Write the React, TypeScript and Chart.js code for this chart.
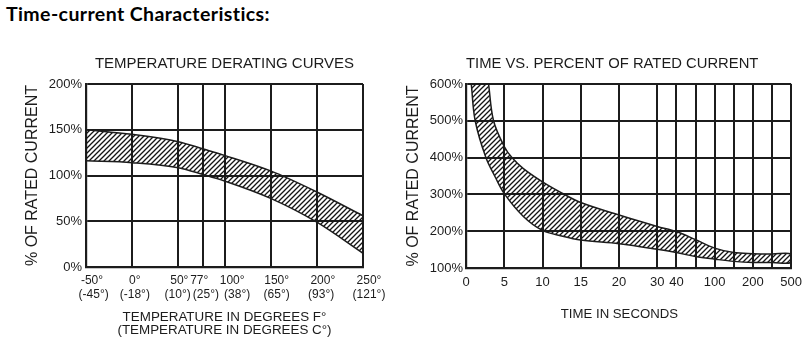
import React, { useEffect, useRef } from 'react';
import { Chart, registerables } from 'chart.js';

Chart.register(...registerables);

const FONT = '"Liberation Sans", Arial, Helvetica, sans-serif';
const INK = '#1c1c1c';

const PAGE_TITLE = 'Time-current Characteristics:';

// ---- Temperature derating curves ----
const DERATING_TITLE = 'TEMPERATURE DERATING CURVES';
const DERATING_Y_TITLE = '% OF RATED CURRENT';
const DERATING_X_TITLE = ['TEMPERATURE IN DEGREES F°', '(TEMPERATURE IN DEGREES C°)'];
const tempF = [-50, 0, 50, 77, 100, 150, 200, 250];
const tempC = [-45, -18, 10, 25, 38, 65, 93, 121];
const deratingUpper = [150, 145, 137, 129, 122, 105, 82, 56];
const deratingLower = [116, 114, 108.5, 101, 94, 75, 49, 15];
const deratingYTicks = [0, 50, 100, 150, 200];

// ---- Time vs percent of rated current ----
const TIME_TITLE = 'TIME VS. PERCENT OF RATED CURRENT';
const TIME_Y_TITLE = '% OF RATED CURRENT';
const TIME_X_TITLE = 'TIME IN SECONDS';
const timeGrid = [0, 5, 10, 15, 20, 30, 40, 60, 100, 150, 200, 300, 500];
const timeTickLabels = ['0', '5', '10', '15', '20', '30', '40', '', '100', '', '200', '', '500'];
// the time axis is non-uniform: slot index of each grid time on the axis
const timeGridSlots = [0, 2, 4, 6, 8, 10, 11, 12, 13, 14, 15, 16, 17];
const timeYTicks = [100, 200, 300, 400, 500, 600];
const upperTimes = [2.95, 3.6, 5, 6, 7.5, 10, 12.5, 15, 20, 30, 40, 60, 100, 150, 200, 300, 500];
const upperPct = [600, 500, 430, 400, 370, 334, 304, 278, 244, 213, 199, 177, 154, 142, 139, 138, 138];
const lowerTimes = [0.69, 1.2, 2.6, 3.8, 5, 7.5, 10, 12.5, 15, 20, 30, 40, 60, 100, 150, 200, 300, 500];
const lowerPct = [600, 500, 400, 348, 302, 240, 202, 187, 176, 166, 151, 142, 131, 124, 118, 115, 115, 115];

function timeToSlot(t: number): number {
  for (let i = 0; i < timeGrid.length - 1; i++) {
    if (t <= timeGrid[i + 1]) {
      const f = (t - timeGrid[i]) / (timeGrid[i + 1] - timeGrid[i]);
      return timeGridSlots[i] + f * (timeGridSlots[i + 1] - timeGridSlots[i]);
    }
  }
  return timeGridSlots[timeGridSlots.length - 1];
}

// spacing nudges so the crowded 50°/77°/100° labels sit side by side as in the original
const fLead = [0, 0, 0, 0, 1, 0, 0, 0];
const fTrail = [0, 2, 3, 6, 0, 0, 0, 0];
const cLead = [1, 0, 0, 0, 4, 0, 0, 0];
const cTrail = [0, 2, 4, 2, 0, 0, 1, 0];
function nudge(s: string, lead: number, trail: number) {
  return ' '.repeat(lead) + s + ' '.repeat(trail);
}

function makeHatch(): CanvasPattern | string {
  const s = 5;
  const c = document.createElement('canvas');
  c.width = s;
  c.height = s;
  const g = c.getContext('2d');
  if (!g) return '#888';
  g.strokeStyle = '#151515';
  g.lineWidth = 1.3;
  g.beginPath();
  g.moveTo(-1, s + 1);
  g.lineTo(s + 1, -1);
  g.moveTo(-2, 2);
  g.lineTo(2, -2);
  g.moveTo(s - 2, s + 2);
  g.lineTo(s + 2, s - 2);
  g.stroke();
  const p = g.createPattern(c, 'repeat');
  return p || '#888';
}

const gridOpts = { color: INK, lineWidth: 2, drawTicks: false };
const borderOpts = { color: INK, width: 2.2 };

function DeratingChart() {
  const ref = useRef<HTMLCanvasElement>(null);
  useEffect(() => {
    if (!ref.current) return;
    const hatch = makeHatch();
    const chart = new Chart(ref.current, {
      type: 'line',
      data: {
        datasets: [
          {
            label: 'upper',
            data: tempF.map((f, i) => ({ x: f, y: deratingUpper[i] })),
            borderColor: INK,
            borderWidth: 1.5,
            pointRadius: 0,
            fill: false,
            cubicInterpolationMode: 'monotone',
          },
          {
            label: 'lower',
            data: tempF.map((f, i) => ({ x: f, y: deratingLower[i] })),
            borderColor: INK,
            borderWidth: 1.5,
            pointRadius: 0,
            fill: '-1',
            backgroundColor: hatch as any,
            cubicInterpolationMode: 'monotone',
          },
        ],
      },
      options: {
        animation: false,
        responsive: false,
        devicePixelRatio: 1,
        layout: { padding: { left: 0, right: 37, top: 0, bottom: 0 } },
        plugins: {
          legend: { display: false },
          tooltip: { enabled: false },
          title: {
            display: true,
            text: DERATING_TITLE,
            fullSize: false,
            align: 'center',
            color: INK,
            font: { family: FONT, size: 15, weight: 'normal', lineHeight: 1.2 },
            padding: { top: 55, bottom: 11 },
          },
        },
        scales: {
          x: {
            type: 'linear',
            min: tempF[0],
            max: tempF[tempF.length - 1],
            afterBuildTicks: (s: any) => {
              s.ticks = tempF.map((v) => ({ value: v }));
            },
            afterFit: (s: any) => {
              s.height = 77;
            },
            ticks: {
              autoSkip: false,
              maxRotation: 0,
              minRotation: 0,
              padding: 7,
              labelOffset: 6,
              color: INK,
              font: { family: FONT, size: 12, lineHeight: 1.17 },
              callback: (_v: any, i: number) => [
                nudge(`${tempF[i]}°`, fLead[i], fTrail[i]),
                nudge(`(${tempC[i]}°)`, cLead[i], cTrail[i]),
              ],
            },
            grid: gridOpts,
            border: borderOpts,
            title: {
              display: true,
              text: DERATING_X_TITLE,
              color: INK,
              font: { family: FONT, size: 13.4, lineHeight: 1.0 },
              padding: { top: 0, bottom: 7 },
            },
          },
          y: {
            type: 'linear',
            min: 0,
            max: 200,
            afterBuildTicks: (s: any) => {
              s.ticks = deratingYTicks.map((v) => ({ value: v }));
            },
            afterFit: (s: any) => {
              s.width = 86;
            },
            ticks: {
              padding: 4,
              color: INK,
              font: { family: FONT, size: 13 },
              callback: (v: any) => `${v}%`,
            },
            grid: gridOpts,
            border: borderOpts,
            title: {
              display: true,
              text: DERATING_Y_TITLE,
              color: INK,
              font: { family: FONT, size: 16, lineHeight: 1.2 },
              padding: { top: 23.4, bottom: 0 },
            },
          },
        },
      },
    } as any);
    return () => chart.destroy();
  }, []);
  return (
    <canvas
      ref={ref}
      width={400}
      height={344}
      style={{ position: 'absolute', left: 0, top: 0, width: 400, height: 344 }}
    />
  );
}

function TimeChart() {
  const ref = useRef<HTMLCanvasElement>(null);
  useEffect(() => {
    if (!ref.current) return;
    const hatch = makeHatch();
    const upperPts = upperTimes.map((t, i) => ({ x: timeToSlot(t), y: upperPct[i] }));
    const lowerPts = lowerTimes.map((t, i) => ({ x: timeToSlot(t), y: lowerPct[i] }));
    const bandOutline = [...upperPts, ...lowerPts.slice().reverse()];
    const chart = new Chart(ref.current, {
      type: 'line',
      data: {
        datasets: [
          {
            label: 'time-current band',
            data: bandOutline,
            borderColor: INK,
            borderWidth: 1.5,
            pointRadius: 0,
            tension: 0.35,
            fill: 'shape',
            backgroundColor: hatch as any,
          },
        ],
      },
      options: {
        animation: false,
        responsive: false,
        devicePixelRatio: 1,
        layout: { padding: { left: 0, right: 17, top: 0, bottom: 0 } },
        plugins: {
          legend: { display: false },
          tooltip: { enabled: false },
          title: {
            display: true,
            text: TIME_TITLE,
            fullSize: false,
            align: 'start',
            color: INK,
            font: { family: FONT, size: 14.8, weight: 'normal', lineHeight: 1.2 },
            padding: { top: 55.1, bottom: 11.1 },
          },
        },
        scales: {
          x: {
            type: 'linear',
            min: timeGridSlots[0],
            max: timeGridSlots[timeGridSlots.length - 1],
            afterBuildTicks: (s: any) => {
              s.ticks = timeGridSlots.map((v) => ({ value: v }));
            },
            afterFit: (s: any) => {
              s.height = 76;
            },
            ticks: {
              autoSkip: false,
              maxRotation: 0,
              minRotation: 0,
              padding: 7,
              color: INK,
              font: { family: FONT, size: 13, lineHeight: 1.1 },
              callback: (_v: any, i: number) => timeTickLabels[i],
            },
            grid: gridOpts,
            border: borderOpts,
            title: {
              display: true,
              text: TIME_X_TITLE + '     ',
              color: INK,
              font: { family: FONT, size: 13.2, lineHeight: 1.2 },
              padding: { top: 0, bottom: 22.2 },
            },
          },
          y: {
            type: 'linear',
            min: 100,
            max: 600,
            afterBuildTicks: (s: any) => {
              s.ticks = timeYTicks.map((v) => ({ value: v }));
            },
            afterFit: (s: any) => {
              s.width = 66;
            },
            ticks: {
              padding: 3,
              color: INK,
              font: { family: FONT, size: 13 },
              callback: (v: any) => `${v}%`,
            },
            grid: gridOpts,
            border: borderOpts,
            title: {
              display: true,
              text: TIME_Y_TITLE,
              color: INK,
              font: { family: FONT, size: 16, lineHeight: 1.2 },
              padding: { top: 4.4, bottom: 0 },
            },
          },
        },
      },
    } as any);
    return () => chart.destroy();
  }, []);
  return (
    <canvas
      ref={ref}
      width={409}
      height={344}
      style={{ position: 'absolute', left: 400, top: 0, width: 409, height: 344 }}
    />
  );
}

export default function App() {
  return (
    <div
      style={{
        position: 'fixed',
        left: 0,
        top: 0,
        width: 809,
        height: 344,
        background: '#ffffff',
        overflow: 'hidden',
      }}
    >
      <div
        style={{
          position: 'absolute',
          left: 6,
          top: 1.5,
          fontFamily: 'Lato, "Open Sans", sans-serif',
          fontWeight: 700,
          fontSize: 19.5,
          letterSpacing: 0.4,
          color: '#000',
          whiteSpace: 'nowrap',
          lineHeight: 'normal',
        }}
      >
        {PAGE_TITLE}
      </div>
      <DeratingChart />
      <TimeChart />
    </div>
  );
}
